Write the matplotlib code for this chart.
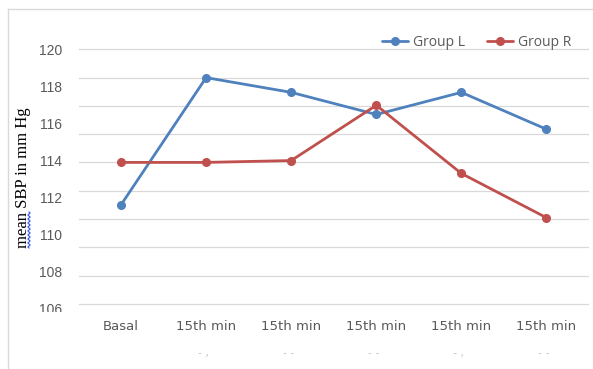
import numpy as np
import matplotlib
matplotlib.use("Agg")
import matplotlib.pyplot as plt
from matplotlib.lines import Line2D
from matplotlib.transforms import Bbox

# ---- data ----
categories = ["Basal", "15th min", "15th min", "15th min", "15th min", "15th min"]
sub_marks = ["", "- ,", "- -", "- -", "- ,", "- -"]
group_l = [111.6, 118.5, 117.7, 116.5, 117.7, 115.7]
group_r = [113.9, 113.9, 114.0, 117.0, 113.3, 110.9]
y_ticks = [106, 108, 110, 112, 114, 116, 118, 120]

BLUE = "#4F81BD"
RED = "#C0504D"
GRID = "#d9d9d9"
TXT = "#595959"

W, H = 593, 369
DPI = 100
fig = plt.figure(figsize=(W / DPI, H / DPI), dpi=DPI)

def px_box(left, top, right, bottom):
    return [left / W, 1 - bottom / H, (right - left) / W, (bottom - top) / H]

ymin, ymax = 106.0, 120.1
px_per_unit = 18.43
top_px = 308 - (ymax - ymin) * px_per_unit
ax = fig.add_axes(px_box(78.5, top_px, 589, 308))

x = np.arange(len(categories))
ax.plot(x, group_l, color=BLUE, lw=2.0, marker="o", ms=5.5, label="Group L",
        solid_capstyle="round", zorder=3)
ax.plot(x, group_r, color=RED, lw=2.0, marker="o", ms=5.5, label="Group R",
        solid_capstyle="round", zorder=3)

ax.set_xlim(-0.5, len(categories) - 0.5)
ax.set_ylim(ymin, ymax)

# horizontal gridlines on their own evenly spaced grid
ax.set_yticks(y_ticks)
ax.set_yticks(np.linspace(106.22, 120.04, 10), minor=True)
ax.grid(axis="y", which="minor", color=GRID, lw=0.9)
ax.grid(axis="y", which="major", visible=False)
ax.tick_params(axis="y", which="both", length=0, pad=12, labelsize=10, labelcolor=TXT)
for lab in ax.get_yticklabels():
    lab.set_fontfamily("Liberation Sans")

ax.set_xticks(x)
ax.set_xticklabels(categories, fontsize=9.5, color=TXT, family="DejaVu Sans")
ax.tick_params(axis="x", length=0, pad=9)

for s in ax.spines.values():
    s.set_visible(False)

# clip the lowest tick label to the chart area
fig.canvas.draw()
clip = Bbox.from_extents(0, H - 312, W, H)
for lab in ax.get_yticklabels():
    lab.set_clip_box(clip)
    lab.set_clip_on(True)

# faint second line under the category labels
for xi, m in zip(x, sub_marks):
    if m:
        ax.text(xi - 0.03, -0.175, m, transform=ax.get_xaxis_transform(),
                ha="center", va="center", fontsize=8, color="#c4c4c4")

# y-axis title with spell-check squiggle under the first word
fig.text(23.5 / W, 1 - 178 / H, "mean SBP in mm Hg", rotation=90,
         ha="center", va="center", fontsize=12, family="Liberation Serif",
         color="black")
t = np.linspace(212, 248, 60)
wave_x = 29 + 1.1 * np.sin((t - 212) * 2 * np.pi / 4.0)
fig.add_artist(Line2D(wave_x / W, 1 - t / H, color="#3355ee", lw=0.8))

# chart border
fig.add_artist(Line2D([7.5 / W, 1.0], [1 - 9 / H, 1 - 9 / H], color=GRID, lw=1))
fig.add_artist(Line2D([7.5 / W, 7.5 / W], [1 - 9 / H, 0], color=GRID, lw=1))

fig.legend(loc="center", bbox_to_anchor=(476.5 / W, 1 - 42 / H), ncol=2,
           frameon=False, fontsize=10, labelcolor=TXT, handlelength=1.9,
           handletextpad=0.35, columnspacing=1.6, borderpad=0,
           prop={"family": "Open Sans", "size": 10})

fig.savefig("out.png", dpi=DPI)
